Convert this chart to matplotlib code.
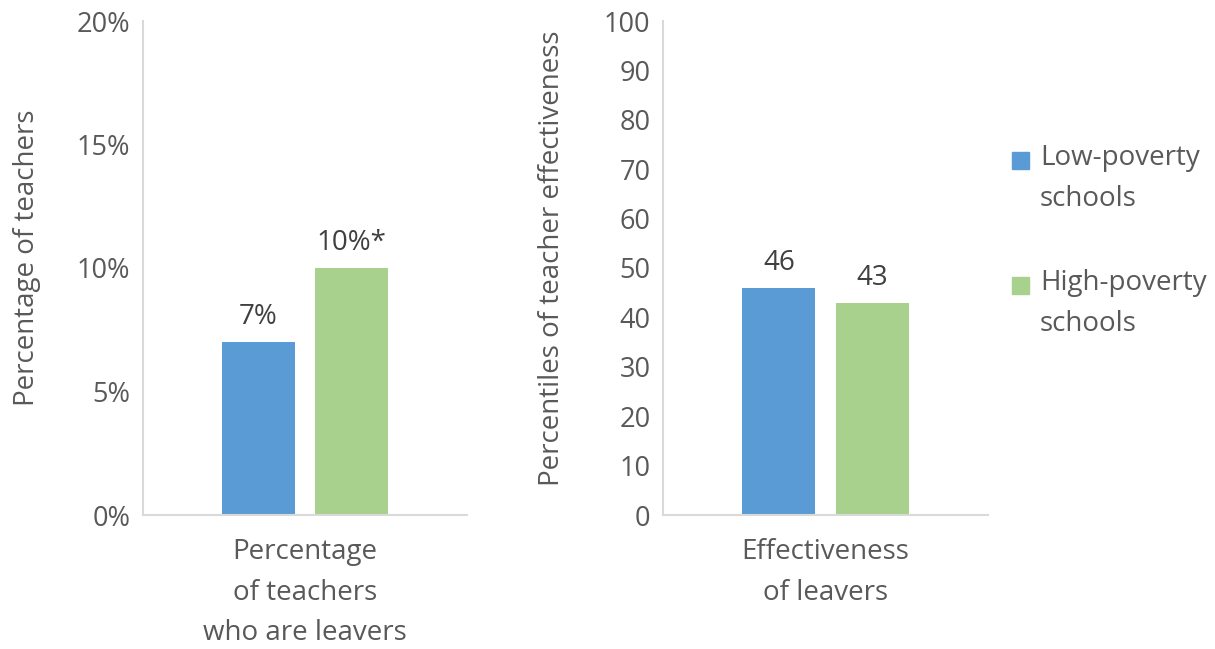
import matplotlib
matplotlib.use("Agg")
import matplotlib.pyplot as plt
from matplotlib.patches import Rectangle
from matplotlib.ticker import FuncFormatter

# data
series = ["Low-poverty\nschools", "High-poverty\nschools"]
colors = ["#5b9bd5", "#a9d18e"]
pct_leavers = [7, 10]
pct_labels = ["7%", "10%*"]
eff_leavers = [46, 43]
eff_labels = ["46", "43"]
left_cat = "Percentage\nof teachers\nwho are leavers"
right_cat = "Effectiveness\nof leavers"

grey = "#595959"
plt.rcParams['font.family'] = ['Open Sans', 'DejaVu Sans']
fs = 20
W, H = 1215, 649

fig = plt.figure(figsize=(12.15, 6.49), dpi=100)
ax1 = fig.add_axes([143/W, 1-515/H, 324/W, 494/H])
ax2 = fig.add_axes([663/W, 1-515/H, 325/W, 494/H])

bw = 0.225
offs = [-0.1435, 0.1435]

def style(ax):
    for s in ["top", "right"]:
        ax.spines[s].set_visible(False)
    for s in ["left", "bottom"]:
        ax.spines[s].set_color("#d9d9d9")
        ax.spines[s].set_linewidth(1.5)
    ax.tick_params(length=0, labelsize=fs - 0.5, colors=grey, pad=9)
    ax.set_xlim(-0.5, 0.5)
    ax.set_xticks([])

for i in range(2):
    ax1.bar(offs[i], pct_leavers[i], width=bw, color=colors[i])
    ax1.text(offs[i], pct_leavers[i] + 0.45, pct_labels[i], ha="center", va="bottom",
             fontsize=fs, color="#404040")
    ax2.bar(offs[i], eff_leavers[i], width=bw, color=colors[i])
    ax2.text(offs[i], eff_leavers[i] + 2.2, eff_labels[i], ha="center", va="bottom",
             fontsize=fs, color="#404040")

style(ax1)
ax1.set_ylim(0, 20)
ax1.set_yticks([0, 5, 10, 15, 20])
ax1.yaxis.set_major_formatter(FuncFormatter(lambda v, p: f"{v:.0f}%"))
ax1.set_ylabel("Percentage of teachers", fontsize=fs, color=grey)
ax1.yaxis.set_label_coords(-0.315, 0.52)
ax1.text(0.5, -0.047, left_cat, transform=ax1.transAxes, ha="center", va="top",
         fontsize=fs, color=grey, linespacing=1.6)

style(ax2)
ax2.set_ylim(0, 100)
ax2.set_yticks(range(0, 101, 10))
ax2.set_ylabel("Percentiles of teacher effectiveness", fontsize=fs, color=grey)
ax2.yaxis.set_label_coords(-0.30, 0.52)
ax2.text(0.5, -0.047, right_cat, transform=ax2.transAxes, ha="center", va="top",
         fontsize=fs, color=grey, linespacing=1.6)

# legend drawn by hand: square beside the first line of each label
leg_tops = [152, 277]
for lab, c, top in zip(series, colors, leg_tops):
    fig.patches.append(Rectangle((1012/W, 1-(top+17)/H), 17/W, 17/H, color=c,
                                 transform=fig.transFigure, figure=fig))
    fig.text(1040/W, 1-(top-8)/H, lab, ha="left", va="top", fontsize=fs,
             color=grey, linespacing=1.6)

fig.savefig("out.png", dpi=100)
